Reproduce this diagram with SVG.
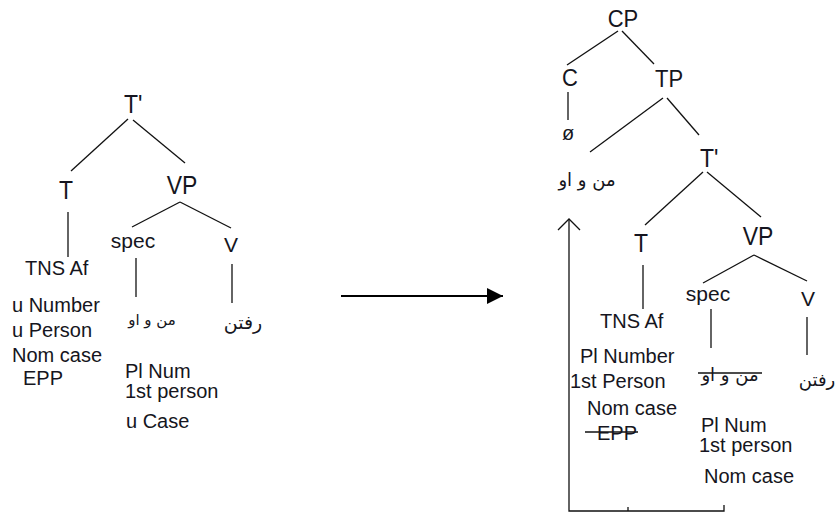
<svg xmlns="http://www.w3.org/2000/svg" width="837" height="513" viewBox="0 0 837 513">
<defs>
<style>
.t{font-family:"Liberation Sans",Arial,sans-serif;font-size:20px;fill:#151520}
.big{font-family:"Liberation Sans",Arial,sans-serif;font-size:23px;fill:#151520}
.mid{font-family:"Liberation Sans",Arial,sans-serif;font-size:22px;fill:#151520}
.ar{font-family:"DejaVu Sans","Noto Sans",sans-serif;font-size:15px;fill:#151520}
.c{text-anchor:middle}
.ln{stroke:#111;stroke-width:1.3;fill:none}
</style>
<marker id="tri" viewBox="0 0 16 16" refX="16" refY="8" markerWidth="16" markerHeight="16" markerUnits="userSpaceOnUse" orient="auto">
<path d="M0,0 L16,8 L0,16 Z" fill="#000"/>
</marker>
</defs>
<rect width="837" height="513" fill="#fff"/>

<g id="connectors">
<!-- left tree -->
<path class="ln" d="M128,119 L71,171"/>
<path class="ln" d="M133,120 L185,163"/>
<path class="ln" d="M68,212 L68,257"/>
<path class="ln" d="M180,202 L132,227"/>
<path class="ln" d="M180,202 L231,228"/>
<path class="ln" d="M136,258 L136,297"/>
<path class="ln" d="M232,264 L232,303"/>
<!-- main arrow -->
<path d="M341,296 L503,296" stroke="#000" stroke-width="2" fill="none" marker-end="url(#tri)"/>
<!-- right tree -->
<path class="ln" d="M618,31 L567,65"/>
<path class="ln" d="M622,31 L654,64"/>
<path class="ln" d="M568,92 L568,120"/>
<path class="ln" d="M663,98 L590,152"/>
<path class="ln" d="M667,98 L699,135"/>
<path class="ln" d="M703,172 L645,225"/>
<path class="ln" d="M707,172 L761,217"/>
<path class="ln" d="M643,265 L643,309"/>
<path class="ln" d="M754,255 L703,283"/>
<path class="ln" d="M754,255 L807,281"/>
<path class="ln" d="M711,309 L711,348"/>
<path class="ln" d="M807,317 L807,355"/>
<!-- movement bracket -->
<path class="ln" d="M569,220 L569,511 L724,511 L724,505"/>
<path class="ln" d="M628,511 L628,507"/>
<path class="ln" d="M558,230 L569,219 L580,230"/>
<!-- strikethroughs -->
<path class="ln" d="M698,373 L762,373"/>
<path class="ln" d="M585,432 L638,432"/>
</g>

<g id="left-Tbar"><text class="big" transform="translate(124,113) scale(1,1.15)">T'</text></g>
<g id="left-T"><text class="big c" transform="translate(66,199) scale(1,1.15)">T</text></g>
<g id="left-VP"><text class="big c" transform="translate(182,194) scale(1,1.15)">VP</text></g>
<g id="left-TNS"><text class="t" x="25" y="275">TNS Af</text></g>
<g id="left-spec"><text class="t c" x="133" y="248" style="font-size:21px">spec</text></g>
<g id="left-V"><text class="t c" x="231" y="252" style="font-size:21px">V</text></g>
<g id="left-Tfeat">
<text class="t" x="12" y="312">u Number</text>
<text class="t" x="12" y="337">u Person</text>
<text class="t" x="12" y="362">Nom case</text>
<text class="t" x="23" y="385">EPP</text>
</g>
<g id="left-spec-word"><text class="ar c" x="152" y="325">من و او</text></g>
<g id="left-V-word"><text class="ar c" x="243" y="329" style="font-size:19px">رفتن</text></g>
<g id="left-specfeat">
<text class="t" x="125" y="378">Pl Num</text>
<text class="t" x="125" y="398">1st person</text>
<text class="t" x="126" y="428">u Case</text>
</g>

<g id="right-CP"><text class="mid c" transform="translate(623,27) scale(1,1.05)">CP</text></g>
<g id="right-C"><text class="mid c" transform="translate(570,86) scale(1,1.05)">C</text></g>
<g id="right-TP"><text class="mid c" transform="translate(669,87) scale(1,1.05)">TP</text></g>
<g id="right-null"><text class="t c" x="568" y="140">ø</text></g>
<g id="right-subj"><text class="ar c" x="587" y="186" style="font-size:18px">من و او</text></g>
<g id="right-Tbar"><text class="big" transform="translate(700,167) scale(1,1.15)">T'</text></g>
<g id="right-T"><text class="big c" transform="translate(641,252) scale(1,1.15)">T</text></g>
<g id="right-VP"><text class="big c" transform="translate(758,245) scale(1,1.15)">VP</text></g>
<g id="right-TNS"><text class="t" x="600" y="328">TNS Af</text></g>
<g id="right-spec"><text class="t c" x="708" y="301" style="font-size:21px">spec</text></g>
<g id="right-V"><text class="t c" x="808" y="306" style="font-size:21px">V</text></g>
<g id="right-Tfeat">
<text class="t" x="580" y="363">Pl Number</text>
<text class="t" x="570" y="388">1st Person</text>
<text class="t" x="587" y="415">Nom case</text>
<text class="t" x="597" y="440">EPP</text>
</g>
<g id="right-spec-word"><text class="ar c" x="730" y="381" style="font-size:18px">من و او</text></g>
<g id="right-V-word"><text class="ar c" x="817" y="386" style="font-size:18px">رفتن</text></g>
<g id="right-specfeat">
<text class="t" x="701" y="432">Pl Num</text>
<text class="t" x="699" y="452">1st person</text>
<text class="t" x="704" y="483">Nom case</text>
</g>
</svg>
